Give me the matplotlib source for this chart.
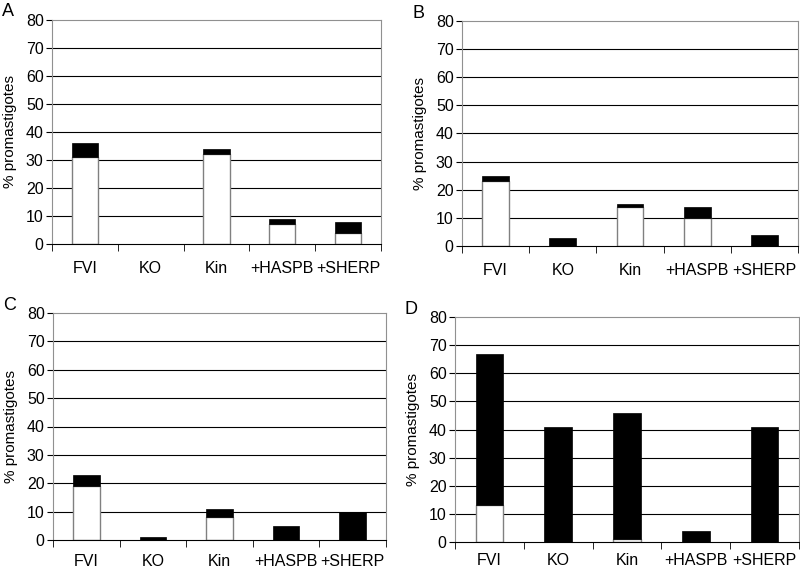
import numpy as np
import matplotlib
matplotlib.use('Agg')
import matplotlib.pyplot as plt
from matplotlib.ticker import FixedLocator

plt.rcParams['font.family'] = ['Liberation Sans', 'DejaVu Sans']

categories = ['FVI', 'KO', 'Kin', '+HASPB', '+SHERP']

# white (lower) part and total height of each bar
white_A = [31, 0, 32, 7, 4]
total_A = [36, 0, 34, 9, 8]
white_B = [23, 0, 14, 10, 0]
total_B = [25, 3, 15, 14, 4]
white_C = [19, 0, 8, 0, 0]
total_C = [23, 1, 11, 5, 10]
white_D = [13, 0, 1, 0, 0]
total_D = [67, 41, 46, 4, 41]

panels = [
    ('A', white_A, total_A, [52, 20, 381, 244], 12),
    ('B', white_B, total_B, [462, 21, 798, 246], 12),
    ('C', white_C, total_C, [53, 313, 386, 540], 10),
    ('D', white_D, total_D, [455, 317, 799, 542], 8),
]

W, H = 800, 572
fig = plt.figure(figsize=(8, 5.72), dpi=100)

for letter, white, total, (x0, y0, x1, y1), xpad in panels:
    ax = fig.add_axes([x0 / W, 1 - y1 / H, (x1 - x0) / W, (y1 - y0) / H])
    x = np.arange(len(categories))
    white = np.array(white)
    black = np.array(total) - white
    for v in range(10, 80, 10):
        ax.axhline(v, color='black', lw=0.8, zorder=0)
    # skip zero-height pieces so no stray edge line is drawn
    m = white > 0
    ax.bar(x[m], white[m], width=0.4, color='white', edgecolor='#808080', lw=1, zorder=2)
    m = black > 0
    ax.bar(x[m], black[m], bottom=white[m], width=0.4, color='black', edgecolor='black', lw=0.5, zorder=2)
    ax.set_xlim(-0.5, len(categories) - 0.5)
    ax.set_ylim(0, 80)
    ax.set_yticks(range(0, 81, 10))
    ax.set_xticks(x)
    ax.set_xticklabels(categories, fontsize=11.5)
    ax.tick_params(axis='x', which='major', length=0, pad=xpad)
    ax.xaxis.set_minor_locator(FixedLocator(np.arange(-0.5, len(categories), 1.0)))
    ax.tick_params(axis='x', which='minor', length=5, color='black')
    ax.tick_params(axis='y', length=4, labelsize=11.5, pad=2)
    for s in ['top', 'right', 'left']:
        ax.spines[s].set_color('#909090')
        ax.spines[s].set_linewidth(0.8)
    ax.spines['bottom'].set_color('black')
    ax.set_ylabel('% promastigotes', fontsize=11, labelpad=6)
    fig.text((x0 - 50) / W, 1 - (y0 - 8) / H, letter, fontsize=13, va='center', ha='left')

fig.savefig('out.png', dpi=100)
